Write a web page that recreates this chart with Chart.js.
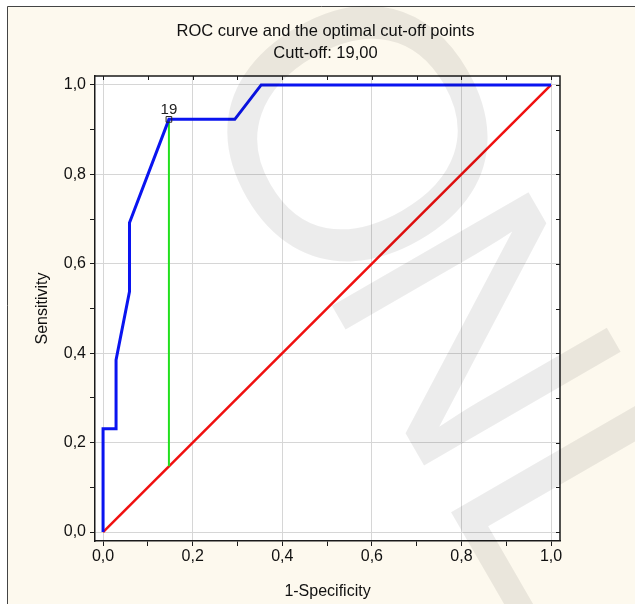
<!DOCTYPE html>
<html>
<head>
<meta charset="utf-8">
<script src="https://cdn.jsdelivr.net/npm/chart.js@4/dist/chart.umd.min.js"></script>
<style>
  html, body { margin: 0; padding: 0; background: #ffffff; }
  canvas { display: block; }
</style>
</head>
<body>
<canvas id="c" width="635" height="604"></canvas>
<script>
// ---- data ----
const rocX = [0.000, 0.000, 0.029, 0.029, 0.059, 0.059, 0.147, 0.294, 0.353, 1.000];
const rocY = [0.000, 0.231, 0.231, 0.385, 0.538, 0.692, 0.923, 0.923, 1.000, 1.000];
const refX = [0.0, 1.0];
const refY = [0.0, 1.0];
const cutX = [0.147, 0.147];
const cutY = [0.147, 0.923];
const optX = [0.147];
const optY = [0.923];
const optLabels = ['19'];
const tickValues = [0.0, 0.1, 0.2, 0.3, 0.4, 0.5, 0.6, 0.7, 0.8, 0.9, 1.0];
const tickLabels = ['0,0', '', '0,2', '', '0,4', '', '0,6', '', '0,8', '', '1,0'];
const titleLines = ['ROC curve and the optimal cut-off points', 'Cutt-off: 19,00'];
const xTitle = '1-Specificity';
const yTitle = 'Sensitivity';
const watermarkO = 'O';
const watermarkRest = 'NL';

const FONT = '"Liberation Sans", Arial, sans-serif';
const pts = (xs, ys) => xs.map((x, i) => ({ x: x, y: ys[i] }));

const decor = {
  id: 'decor',
  beforeDraw(chart) {
    const { ctx, chartArea: a, width, height } = chart;
    ctx.save();
    ctx.fillStyle = '#ffffff';
    ctx.fillRect(0, 0, width, height);
    ctx.fillStyle = '#fdf9ee';
    ctx.fillRect(7, 6, width - 7, height - 6);
    ctx.strokeStyle = '#444444';
    ctx.lineWidth = 1;
    ctx.beginPath();
    ctx.moveTo(7.5, height);
    ctx.lineTo(7.5, 6.5);
    ctx.lineTo(width, 6.5);
    ctx.stroke();
    ctx.fillStyle = '#ffffff';
    ctx.fillRect(a.left, a.top, a.right - a.left, a.bottom - a.top);
    ctx.restore();
  },
  afterDatasetsDraw(chart) {
    const { ctx, chartArea: a, scales } = chart;
    ctx.save();
    ctx.strokeStyle = '#1a1a1a';
    ctx.lineWidth = 1.5;
    ctx.beginPath();
    ctx.moveTo(a.left, a.top);
    ctx.lineTo(a.right, a.top);
    ctx.lineTo(a.right, a.bottom);
    ctx.stroke();
    ctx.lineWidth = 1;
    ctx.beginPath();
    tickValues.forEach(v => {
      const px = Math.round(scales.x.getPixelForValue(v)) + 0.5;
      ctx.moveTo(px, a.top);
      ctx.lineTo(px, a.top + 4);
      const py = Math.round(scales.y.getPixelForValue(v)) + 0.5;
      ctx.moveTo(a.right, py);
      ctx.lineTo(a.right - 4, py);
    });
    ctx.stroke();
    const meta = chart.getDatasetMeta(0);
    ctx.fillStyle = '#222222';
    ctx.font = '15px ' + FONT;
    ctx.textAlign = 'center';
    ctx.textBaseline = 'alphabetic';
    meta.data.forEach((el, i) => {
      ctx.fillText(optLabels[i], el.x, el.y - 5);
    });
    const cx = (a.left + a.right) / 2;
    ctx.fillStyle = '#111111';
    ctx.font = '16.5px ' + FONT;
    ctx.textBaseline = 'middle';
    ctx.fillText(titleLines[0], cx - 2, 31);
    ctx.fillText(titleLines[1], cx - 2, 53);
    ctx.restore();
  },
  afterDraw(chart) {
    const { ctx } = chart;
    ctx.save();
    ctx.fillStyle = 'rgba(0,0,0,0.075)';
    ctx.textBaseline = 'alphabetic';
    ctx.textAlign = 'left';
    ctx.save();
    ctx.translate(180, 75);
    ctx.rotate(60 * Math.PI / 180);
    ctx.font = '360px ' + FONT;
    ctx.fillText(watermarkO, 0, 0);
    ctx.restore();
    ctx.save();
    ctx.translate(190, 60);
    ctx.rotate(60 * Math.PI / 180);
    ctx.font = '330px ' + FONT;
    const oW = ctx.measureText('O').width;
    ctx.fillText(watermarkRest, oW, 0);
    ctx.restore();
    ctx.restore();
  }
};

function setTicks(scale) {
  scale.ticks = tickValues.map(v => ({ value: v }));
}

const gridOpts = {
  color: c => (c.index % 2 === 0 ? '#d6d6d6' : 'rgba(0,0,0,0)'),
  tickColor: '#1a1a1a',
  tickLength: 5,
  lineWidth: 1,
  drawOnChartArea: true
};

new Chart(document.getElementById('c'), {
  type: 'scatter',
  data: {
    datasets: [
      {
        data: pts(optX, optY), showLine: false, pointStyle: 'rect', pointRadius: 4,
        pointBorderColor: '#222222', pointBackgroundColor: 'rgba(0,0,0,0)', pointBorderWidth: 1, order: 0
      },
      {
        data: pts(rocX, rocY), showLine: true, borderColor: '#0a14f0', borderWidth: 3,
        pointRadius: 0, tension: 0, fill: false, order: 1, clip: false
      },
      {
        data: pts(cutX, cutY), showLine: true, borderColor: '#22e01e', borderWidth: 2,
        pointRadius: 0, tension: 0, fill: false, order: 2
      },
      {
        data: pts(refX, refY), showLine: true, borderColor: '#f01010', borderWidth: 2.5,
        pointRadius: 0, tension: 0, fill: false, order: 3, clip: false
      }
    ]
  },
  options: {
    responsive: false,
    animation: false,
    devicePixelRatio: 1,
    layout: { padding: { left: 7, top: 76, right: 75, bottom: 0 } },
    plugins: { legend: { display: false }, title: { display: false }, tooltip: { enabled: false } },
    scales: {
      x: {
        type: 'linear', min: -0.018, max: 1.02,
        afterBuildTicks: setTicks,
        afterFit: s => { s.height = 63; },
        ticks: {
          autoSkip: false, maxRotation: 0, padding: 1, color: '#111111',
          font: { family: FONT, size: 16 },
          callback: (v, i) => tickLabels[i]
        },
        grid: gridOpts,
        border: { display: true, color: '#1a1a1a', width: 1.5 },
        title: { display: true, text: xTitle, color: '#111111', font: { family: FONT, size: 16 }, padding: { top: 0, bottom: 3 } }
      },
      y: {
        type: 'linear', min: -0.02, max: 1.02,
        afterBuildTicks: setTicks,
        afterFit: s => { s.width = 88; },
        ticks: {
          autoSkip: false, padding: 4, color: '#111111',
          font: { family: FONT, size: 16 },
          callback: (v, i) => tickLabels[i]
        },
        grid: gridOpts,
        border: { display: true, color: '#1a1a1a', width: 1.5 },
        title: { display: true, text: yTitle, color: '#111111', font: { family: FONT, size: 16 }, padding: { top: 26, bottom: 0 } }
      }
    }
  },
  plugins: [decor]
});
</script>
</body>
</html>
